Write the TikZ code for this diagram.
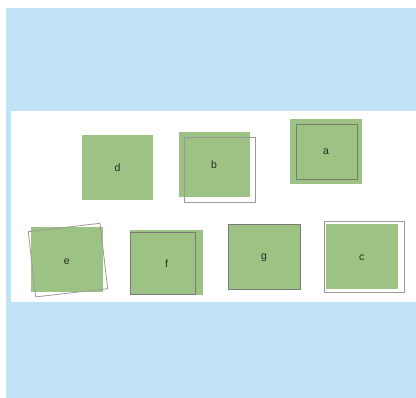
\documentclass[tikz,border=0pt]{standalone}
\usepackage{fontspec}
\setmainfont{Liberation Sans}
\definecolor{bgblue}{HTML}{C0E3F5}
\definecolor{boxgreen}{HTML}{9DC384}
\definecolor{darkline}{HTML}{7A7A7A}
\definecolor{lightline}{HTML}{9A9A9A}
\begin{document}
\begin{tikzpicture}[x=1pt,y=-1pt,
  greenbox/.style={fill=boxgreen,draw=none},
  darkframe/.style={draw=darkline,line width=0.9pt},
  lightframe/.style={draw=lightline,line width=0.8pt},
  lbl/.style={font=\fontsize{10.5}{12}\selectfont,text=black!85,inner sep=0pt}]
\useasboundingbox (0,0) rectangle (416,398);
% background
\fill[bgblue] (6,8) rectangle (416,398);
\fill[white] (11,111) rectangle (416,302);
% d
\fill[greenbox] (82,135) rectangle (153,200);
\node[lbl] (d) at (117.5,168) {d};
% b
\fill[greenbox] (179,132) rectangle (250,197);
\draw[lightframe] (184.5,137.5) rectangle (255.5,202.5);
\node[lbl] (b) at (214,165) {b};
% a
\fill[greenbox] (290,119) rectangle (361.5,184);
\draw[darkframe] (296.5,124.5) rectangle (357,179.5);
\node[lbl] (a) at (326,152) {a};
% e
\fill[greenbox] (31,227.5) rectangle (102.5,292.5);
\draw[lightframe] (28.3,231.7) -- (100,223.3) -- (107.7,288.7) -- (35.7,296.9) -- cycle;
\node[lbl] (e) at (66.7,261.7) {e};
% f
\fill[greenbox] (130,230.5) rectangle (202.5,295.5);
\draw[darkframe] (130.5,232.5) rectangle (195.5,294);
\node[lbl] (f) at (166.7,263.5) {f};
% g
\fill[greenbox] (228.5,224) rectangle (300,289.5);
\draw[darkframe] (228.5,224) rectangle (300,289.5);
\node[lbl] (g) at (264,258) {g};
% c
\fill[greenbox] (326,224) rectangle (398,288.7);
\draw[lightframe] (324.5,221.5) rectangle (404.3,292.3);
\node[lbl] (c) at (361.7,257.3) {c};
\end{tikzpicture}
\end{document}
